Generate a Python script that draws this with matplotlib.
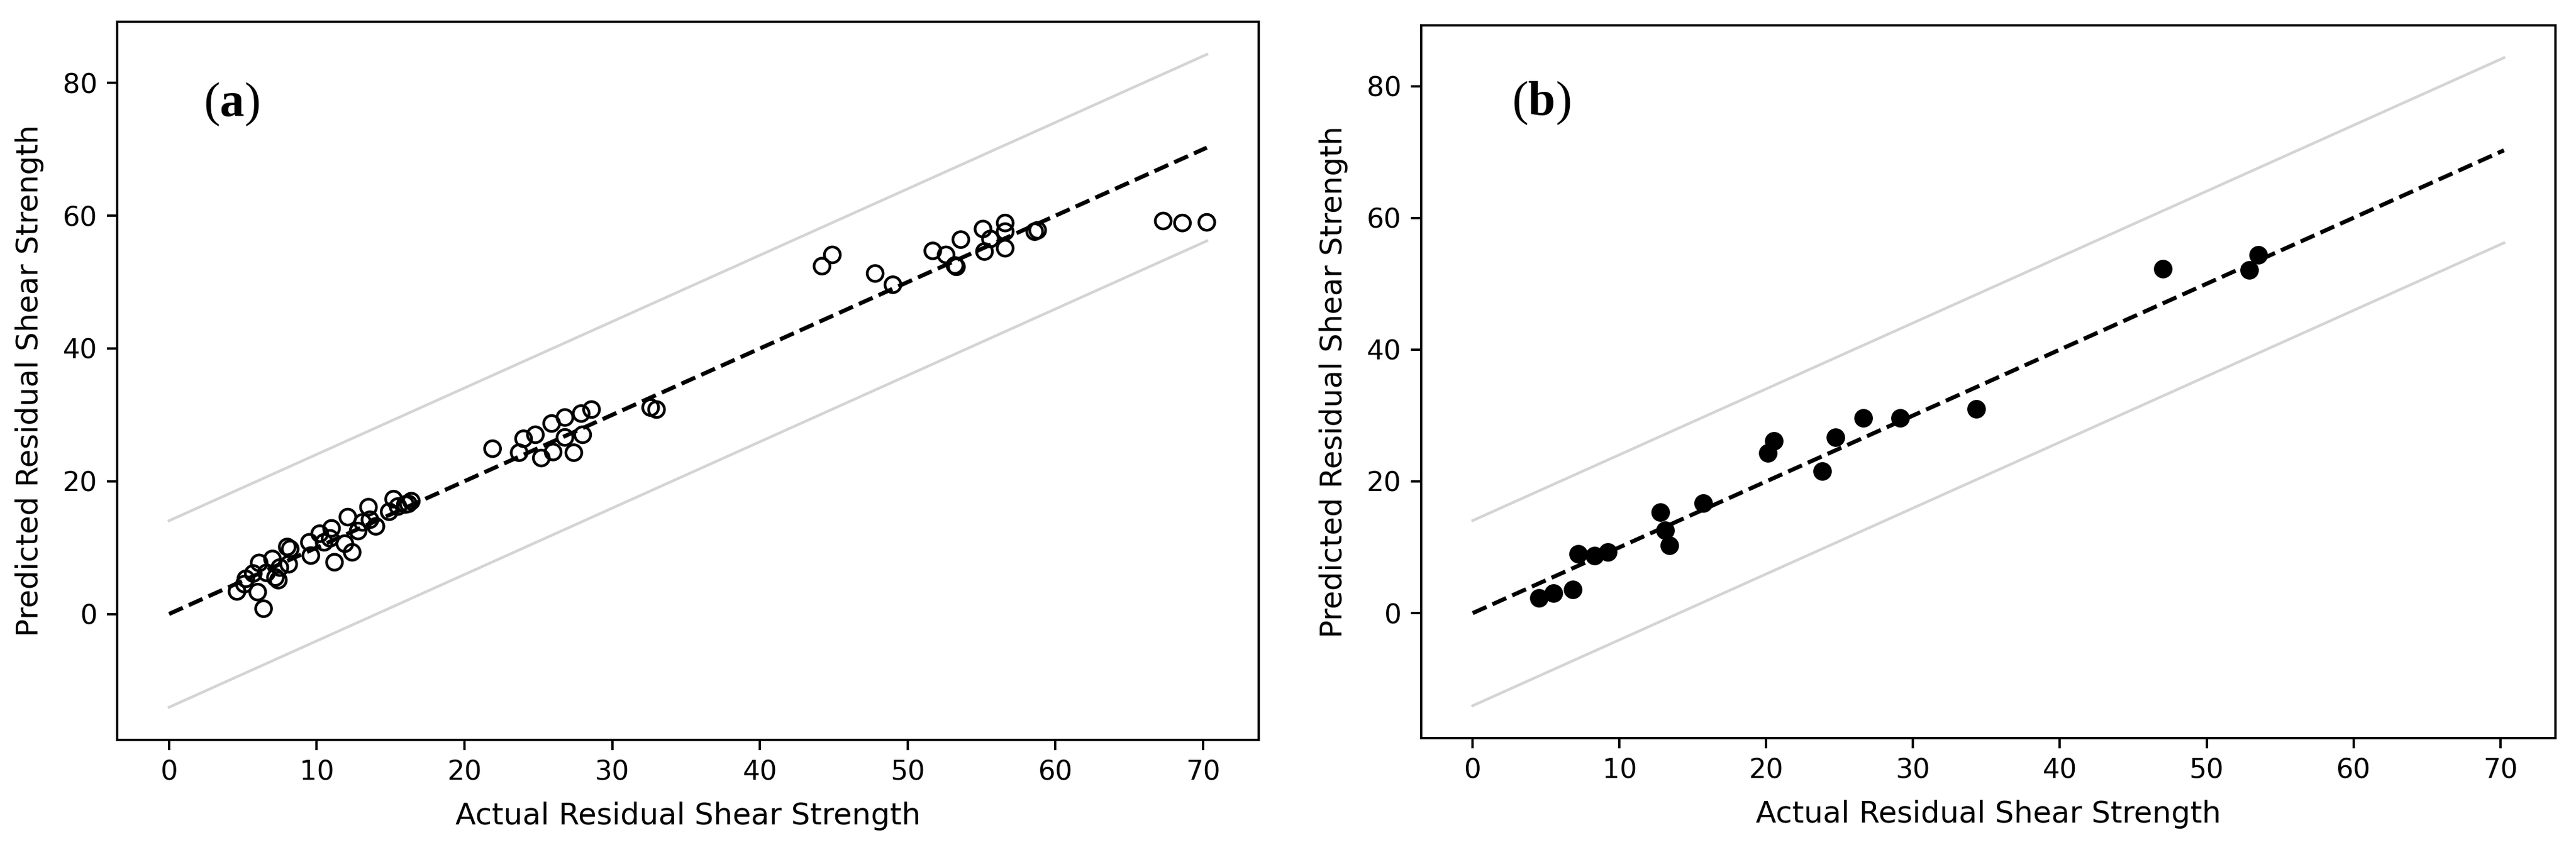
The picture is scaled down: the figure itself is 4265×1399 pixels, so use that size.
import matplotlib
matplotlib.use("Agg")
import matplotlib.pyplot as plt
import numpy as np

# panel (a): open circles
actual_a = [4.6, 5.1, 5.2, 5.7, 6.0, 6.1, 6.4, 6.6, 7.0, 7.2, 7.4, 7.5, 8.0, 8.1, 8.2,
            9.5, 9.6, 10.2, 10.5, 10.9, 11.0, 11.2, 11.9, 12.1, 12.4, 12.8, 13.1, 13.5,
            13.6, 14.0, 14.9, 15.2, 15.5, 16.0, 16.4, 16.2,
            21.9, 23.7, 24.0, 24.8, 25.2, 25.9, 26.0, 26.8, 26.8, 27.4, 28.0, 27.9, 28.6,
            32.6, 33.0,
            44.2, 44.9, 47.8, 49.0, 51.7, 52.6, 53.2, 53.3, 53.6, 55.1, 55.2, 55.6, 56.6,
            56.6, 56.6, 58.6, 58.8, 67.3, 68.6, 70.25]
pred_a = [3.4, 4.5, 5.3, 6.1, 3.3, 7.7, 0.8, 6.2, 8.3, 5.5, 5.1, 7.0, 10.1, 7.5, 9.8,
          10.8, 8.8, 12.1, 10.8, 11.4, 12.9, 7.8, 10.6, 14.6, 9.3, 12.5, 13.8, 16.1,
          14.2, 13.2, 15.4, 17.3, 16.2, 16.5, 17.0, 16.6,
          24.9, 24.3, 26.4, 27.0, 23.5, 28.7, 24.4, 29.6, 26.6, 24.3, 27.0, 30.2, 30.8,
          31.1, 30.8,
          52.4, 54.1, 51.3, 49.6, 54.7, 54.1, 52.5, 52.3, 56.4, 58.0, 54.6, 56.5, 58.9,
          55.1, 57.6, 57.6, 57.8, 59.2, 58.9, 59.0]

# panel (b): filled circles
actual_b = [4.5, 5.5, 6.8, 7.2, 8.3, 9.2, 12.8, 13.1, 13.4, 15.7, 20.1, 20.5, 23.8,
            24.7, 26.6, 29.1, 34.3, 47.0, 52.9, 53.5]
pred_b = [2.3, 3.0, 3.6, 9.0, 8.7, 9.3, 15.3, 12.6, 10.3, 16.7, 24.3, 26.1, 21.6,
          26.7, 29.6, 29.6, 31.0, 52.3, 52.1, 54.4]

x_label = "Actual Residual Shear Strength"
y_label = "Predicted Residual Shear Strength"
panel_tags = ["a", "b"]

# reference line from 0 to largest actual value, band of +/- 20 %
line_max = max(actual_a + actual_b)
band = 0.2 * line_max

W, H = 4265, 1399
DPI = 324
plt.rcParams["mathtext.fontset"] = "custom"
plt.rcParams["mathtext.rm"] = "Liberation Serif"
plt.rcParams["mathtext.bf"] = "Liberation Serif:bold"

fig = plt.figure(figsize=(W / DPI, H / DPI), dpi=DPI)


def px_rect(left, right, top, bottom):
    return [left / W, 1 - bottom / H, (right - left) / W, (bottom - top) / H]


ax_a = fig.add_axes(px_rect(194, 2084, 36, 1225))
ax_b = fig.add_axes(px_rect(2353, 4231, 42, 1222))

ref = np.array([0, line_max])
panels = [(ax_a, actual_a, pred_a, "none", panel_tags[0], (0.100, 0.885)),
          (ax_b, actual_b, pred_b, "black", panel_tags[1], (0.106, 0.891))]

for ax, xs, ys, face, tag, tag_pos in panels:
    ax.plot(ref, ref + band, color="#d4d4d4", lw=1.0)
    ax.plot(ref, ref - band, color="#d4d4d4", lw=1.0)
    ax.plot(ref, ref, "k--", lw=1.5)
    ax.scatter(xs, ys, s=34, facecolors=face, edgecolors="black", linewidths=1.0, zorder=3)
    ax.set_xlabel(x_label, fontsize=11, labelpad=6)
    ax.set_ylabel(y_label, fontsize=11, labelpad=7)
    ax.tick_params(labelsize=10, length=3.7, width=0.85)
    for sp in ax.spines.values():
        sp.set_linewidth(0.85)
    ax.text(tag_pos[0], tag_pos[1], r"($\mathbf{" + tag + r"}$)", transform=ax.transAxes,
            fontsize=18, family="Liberation Serif", ha="center", va="center")

fig.savefig("out.png", dpi=DPI)
